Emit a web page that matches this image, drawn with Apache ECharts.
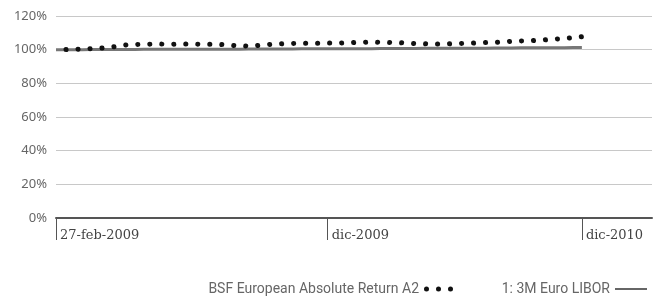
<!DOCTYPE html>
<html>
<head>
<meta charset="utf-8">
<script src="https://cdn.jsdelivr.net/npm/echarts@6/dist/echarts.min.js"></script>
<style>
html, body { margin: 0; padding: 0; background: #fff; }
#chart { width: 660px; height: 298px; }
</style>
</head>
<body>
<div id="chart"></div>
<script>
// x axis positions: 69 slots, only three carry a label
const dates = [];
for (let i = 0; i <= 68; i++) dates.push('');
dates[0] = '27-feb-2009';
dates[31] = 'dic-2009';
dates[60] = 'dic-2010';
const labelIdx = [0, 31, 60];

const fundValues = [
  100.0, 100.0, 100.2, 100.4, 100.6, 100.9, 101.4, 102.0, 102.8, 103.1,
  103.2, 103.3, 103.3, 103.2, 103.3, 103.3, 103.3, 103.2, 103.2, 103.0,
  102.6, 102.2, 102.1, 102.5, 103.0, 103.3, 103.5, 103.7, 103.8, 103.8,
  103.8, 103.9, 103.9, 104.0, 104.2, 104.4, 104.5, 104.4, 104.3, 104.2,
  103.9, 103.6, 103.5, 103.3, 103.3, 103.5, 103.7, 103.8, 104.0, 104.2,
  104.3, 104.6, 105.0, 105.2, 105.3, 105.5, 105.9, 106.3, 106.6, 107.1,
  107.7
];
const liborValues = [
  100.0, 100.0, 100.0, 100.0, 100.1, 100.1, 100.1, 100.1, 100.1, 100.1,
  100.2, 100.2, 100.2, 100.2, 100.2, 100.2, 100.3, 100.3, 100.3, 100.3,
  100.3, 100.3, 100.4, 100.4, 100.4, 100.4, 100.4, 100.4, 100.5, 100.5,
  100.5, 100.5, 100.5, 100.6, 100.6, 100.6, 100.6, 100.7, 100.7, 100.7,
  100.7, 100.7, 100.8, 100.8, 100.8, 100.8, 100.9, 100.9, 100.9, 100.9,
  101.0, 101.0, 101.0, 101.1, 101.1, 101.1, 101.2, 101.2, 101.2, 101.3,
  101.3
];
const yTicks = [0, 20, 40, 60, 80, 100, 120];

const dotsIcon = 'path://M0,2.5a2.5,2.5 0 1,0 5,0a2.5,2.5 0 1,0 -5,0Z' +
  'M12,2.5a2.5,2.5 0 1,0 5,0a2.5,2.5 0 1,0 -5,0Z' +
  'M24,2.5a2.5,2.5 0 1,0 5,0a2.5,2.5 0 1,0 -5,0Z';

let chart = echarts.init(document.getElementById('chart'));

const legendText = {
  fontFamily: 'Roboto',
  fontSize: 14,
  color: '#666'
};

let option = {
  animation: false,
  grid: {
    left: 56,
    right: 8,
    top: 16,
    bottom: 80
  },
  legend: [{
    top: 277,
    right: 202,
    align: 'right',
    itemWidth: 29,
    itemHeight: 5,
    textStyle: legendText,
    data: [{ name: 'BSF European Absolute Return A2', icon: dotsIcon }]
  }, {
    top: 277,
    right: 8,
    align: 'right',
    itemWidth: 32,
    itemHeight: 2,
    textStyle: legendText,
    data: [{ name: '1: 3M Euro LIBOR', icon: 'rect', itemStyle: { color: '#666' } }]
  }],
  xAxis: {
    type: 'category',
    boundaryGap: false,
    data: dates,
    axisLine: {
      lineStyle: { color: '#555', width: 2 }
    },
    axisTick: {
      length: 22,
      interval: (i) => labelIdx.includes(i),
      lineStyle: { color: '#555', width: 1 }
    },
    axisLabel: {
      interval: (i) => labelIdx.includes(i),
      align: 'left',
      padding: [0, 0, 0, 4],
      margin: 11,
      fontFamily: 'DejaVu Serif',
      fontSize: 13,
      color: '#444'
    },
    splitLine: { show: false }
  },
  yAxis: {
    type: 'value',
    min: yTicks[0],
    max: yTicks[yTicks.length - 1],
    interval: 20,
    axisLine: { show: false },
    axisTick: { show: false },
    axisLabel: {
      formatter: '{value}%',
      margin: 9,
      fontFamily: 'Noto Sans',
      fontSize: 13,
      color: '#666'
    },
    splitLine: {
      lineStyle: { color: '#c8c8c8', width: 1 }
    }
  },
  series: [{
    name: '1: 3M Euro LIBOR',
    type: 'line',
    data: liborValues,
    symbol: 'none',
    lineStyle: { color: '#777', width: 3 },
    itemStyle: { color: '#777' }
  }, {
    name: 'BSF European Absolute Return A2',
    type: 'line',
    data: fundValues,
    symbol: 'none',
    lineStyle: {
      color: '#111',
      width: 5,
      type: [0.1, 11.9],
      dashOffset: 2,
      cap: 'round'
    },
    itemStyle: { color: '#111' }
  }]
};

chart.setOption(option);
</script>
</body>
</html>
